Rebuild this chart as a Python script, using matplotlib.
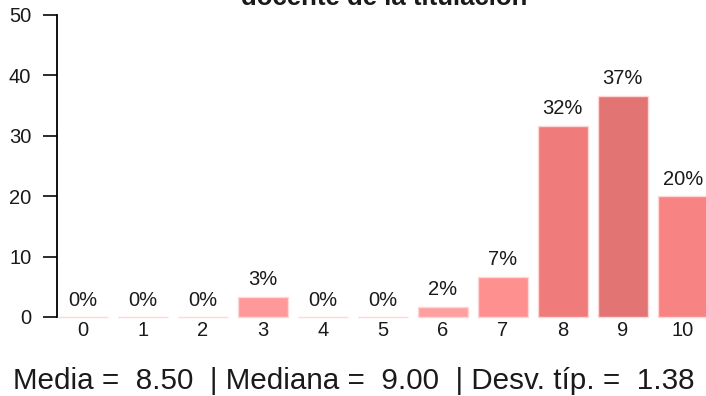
import matplotlib
matplotlib.use("Agg")
import matplotlib.pyplot as plt

plt.rcParams["font.family"] = ["Liberation Sans", "DejaVu Sans"]

# puntuaciones 0-10, n = 60 respuestas
notas = ["0", "1", "2", "3", "4", "5", "6", "7", "8", "9", "10"]
porcentaje = [0, 0, 0, 3.33, 0, 0, 1.67, 6.67, 31.67, 36.67, 20.0]
etiquetas = ["0%", "0%", "0%", "3%", "0%", "0%", "2%", "7%", "32%", "37%", "20%"]
colores = ["#ffa8a8", "#ffa8a8", "#ffa8a8", "#ff9999", "#ffa8a8", "#ffa8a8",
           "#ffa0a0", "#ff9090", "#f07b7b", "#e37474", "#f78383"]
media, mediana, desv = 8.50, 9.00, 1.38

W, H = 706, 396
fig = plt.figure(figsize=(W / 100, H / 100), dpi=100)
ax = fig.add_axes([57 / W, (H - 317) / H, (W - 57) / W, 302 / H])

x = list(range(len(notas)))
ax.bar(x, porcentaje, width=0.84, color=colores, edgecolor="#ffd6d6",
       linewidth=1.0, clip_on=False)
for xi, v, t in zip(x, porcentaje, etiquetas):
    ax.text(xi, v + 1.9, t, ha="center", va="baseline", fontsize=14.5, color="#1a1a1a")

ax.set_xlim(-0.43, (W - 57) / 60 - 0.43)
ax.set_ylim(0, 50)
ax.set_yticks([0, 10, 20, 30, 40, 50])
ax.set_xticks(x)
ax.set_xticklabels(notas)
for s in ("top", "right", "bottom"):
    ax.spines[s].set_visible(False)
ax.spines["left"].set_linewidth(1.3)
ax.tick_params(axis="y", length=10, width=1.3, labelsize=14.5, pad=8.5, colors="#1a1a1a")
ax.tick_params(axis="x", length=0, labelsize=14.5, pad=3, colors="#1a1a1a")

fig.text(384 / W, 1 - 5 / H, "docente de la titulación", ha="center", va="baseline",
         fontsize=18.5, fontweight="bold", color="#1a1a1a")
fig.text(354 / W, 1 - 389 / H,
         f"Media =  {media:.2f}  | Mediana =  {mediana:.2f}  | Desv. típ. =  {desv:.2f}",
         ha="center", va="baseline", fontsize=21.3, color="#1a1a1a")

fig.savefig("out.png", dpi=100)
